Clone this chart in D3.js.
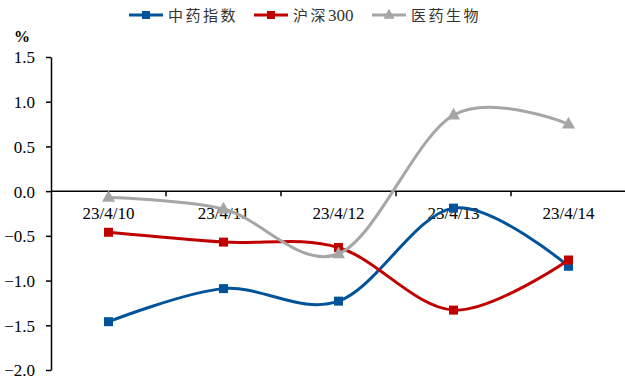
<!DOCTYPE html>
<html>
<head>
<meta charset="utf-8">
<script src="https://cdn.jsdelivr.net/npm/d3@7/dist/d3.min.js"></script>
<style>
  html, body { margin: 0; padding: 0; background: #fff; }
  svg { display: block; }
  .num { font-family: "Liberation Serif", "Times New Roman", "DejaVu Serif", serif; }
  .cjk { font-family: "Noto Sans CJK SC", sans-serif; }
</style>
</head>
<body>
<svg id="chart" width="625" height="383"></svg>
<script>
// Daily returns (%) by trading date
const dates = ["23/4/10", "23/4/11", "23/4/12", "23/4/13", "23/4/14"];
const tcmIndex = [-1.46, -1.09, -1.23, -0.19, -0.84];   // 中药指数
const csi300 = [-0.46, -0.57, -0.63, -1.33, -0.77];     // 沪深300
const pharmaBio = [-0.07, -0.20, -0.70, 0.85, 0.75];    // 医药生物
const yTicks = [1.5, 1.0, 0.5, 0.0, -0.5, -1.0, -1.5, -2.0];

const series = [
  { name: "中药指数", values: tcmIndex, color: "#00539B", marker: "square" },
  { name: "沪深300", values: csi300, color: "#C00000", marker: "square" },
  { name: "医药生物", values: pharmaBio, color: "#A6A6A6", marker: "triangle" }
];

const svg = d3.select("#chart");
const plotLeft = 51, plotRight = 626, plotTop = 57, plotBottom = 370;

const x = d3.scaleBand().domain(dates).range([plotLeft, plotRight]);
const y = d3.scaleLinear().domain([-2, 1.5]).range([plotBottom, plotTop]);

// Y axis
const yAxis = svg.append("g")
  .attr("transform", `translate(${plotLeft},0)`)
  .call(d3.axisLeft(y).tickValues(yTicks).tickFormat(d3.format(".1f")).tickSize(5).tickSizeOuter(0));
yAxis.attr("font-family", null).attr("font-size", null);
yAxis.select(".domain").attr("stroke", "#000").attr("stroke-width", 1.5);
yAxis.selectAll(".tick line").attr("stroke", "#000").attr("stroke-width", 1.5);
yAxis.selectAll(".tick text")
  .attr("class", "num")
  .attr("x", -16)
  .attr("dy", "0.35em")
  .style("font-size", "17px")
  .attr("fill", "#000");

// X axis along zero line, with ticks between categories
const xAxis = svg.append("g").attr("transform", `translate(0,${y(0)})`);
xAxis.append("line")
  .attr("x1", plotLeft).attr("x2", plotRight)
  .attr("stroke", "#000").attr("stroke-width", 1.5);
xAxis.selectAll("line.sep")
  .data(dates.slice(1))
  .join("line")
  .attr("class", "sep")
  .attr("x1", d => x(d)).attr("x2", d => x(d))
  .attr("y1", 0).attr("y2", 5)
  .attr("stroke", "#000").attr("stroke-width", 1.5);
xAxis.selectAll("text")
  .data(dates)
  .join("text")
  .attr("class", "num")
  .attr("x", d => x(d) + x.bandwidth() / 2)
  .attr("y", 28)
  .attr("text-anchor", "middle")
  .style("font-size", "17px")
  .attr("fill", "#000")
  .text(d => d);

// Unit label
svg.append("text")
  .attr("class", "num")
  .attr("x", 22).attr("y", 42)
  .attr("text-anchor", "middle")
  .style("font-weight", "bold")
  .style("font-size", "16px")
  .text("%");

// Smoothed lines and markers
const line = d3.line()
  .x((d, i) => x(dates[i]) + x.bandwidth() / 2)
  .y(d => y(d))
  .curve(d3.curveCatmullRom.alpha(0));

function drawMarker(g, type, color, cx, cy, sq, tri) {
  if (type === "square") {
    g.append("rect")
      .attr("x", cx - sq / 2).attr("y", cy - sq / 2)
      .attr("width", sq).attr("height", sq)
      .attr("fill", color);
  } else {
    const h = tri * 0.9;
    g.append("path")
      .attr("d", `M${cx},${cy - h * 0.62} L${cx + tri / 2},${cy + h * 0.38} L${cx - tri / 2},${cy + h * 0.38} Z`)
      .attr("fill", color);
  }
}

series.forEach(s => {
  const g = svg.append("g");
  g.append("path")
    .attr("d", line(s.values))
    .attr("fill", "none")
    .attr("stroke", s.color)
    .attr("stroke-width", 3);
  s.values.forEach((v, i) => {
    drawMarker(g, s.marker, s.color, x(dates[i]) + x.bandwidth() / 2, y(v), 9, 13);
  });
});

// Legend
const legendItems = [
  { s: series[0], x0: 129 },
  { s: series[1], x0: 254 },
  { s: series[2], x0: 372 }
];
const ly = 15;
legendItems.forEach(({ s, x0 }) => {
  const g = svg.append("g");
  g.append("line")
    .attr("x1", x0).attr("x2", x0 + 34)
    .attr("y1", ly).attr("y2", ly)
    .attr("stroke", s.color).attr("stroke-width", 3);
  drawMarker(g, s.marker, s.color, x0 + 17, ly, 8, 11);
  const t = g.append("text")
    .attr("x", x0 + 39).attr("y", ly + 5.5)
    .style("font-size", "15px")
    .attr("fill", "#333");
  const m = s.name.match(/^([^0-9]+)([0-9]*)$/);
  t.append("tspan").attr("class", "cjk").style("letter-spacing", "2.5px").text(m[1]);
  if (m[2]) t.append("tspan").attr("class", "num").style("font-size", "17px").text(m[2]);
});
</script>
</body>
</html>
